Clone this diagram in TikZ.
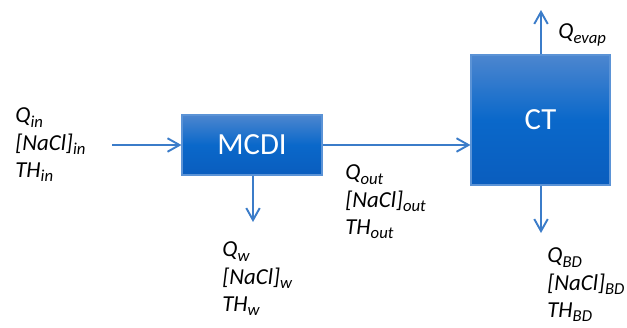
\documentclass[tikz,border=0pt]{standalone}
\usepackage{fontspec}
\setmainfont{Carlito}
\usepackage{tikz}
\usetikzlibrary{arrows.meta, positioning, calc}
\definecolor{unitblue}{HTML}{0A68CA}
\definecolor{unitbluetop}{HTML}{4C86CF}
\definecolor{unitbluebot}{HTML}{0A5DBE}
\definecolor{unitblueedge}{HTML}{5B93D6}
\definecolor{flowblue}{HTML}{3B7CC9}
\newcommand{\sub}[1]{\raisebox{-0.4ex}{\fontsize{9.5}{9.5}\selectfont #1}}

\begin{document}
\begin{tikzpicture}[
    unitbox/.style={draw=unitblueedge, line width=0.6pt, top color=unitbluetop, bottom color=unitbluebot, middle color=unitblue, text=white, font=\fontsize{17.5}{20}\selectfont, inner sep=0pt},
    flow/.style={draw=flowblue, line width=1.1pt, -{Straight Barb[length=2.4mm, width=2.7mm, line width=1.1pt]}},
    streamtext/.style={font=\fontsize{13}{15.5}\selectfont\itshape, align=left, inner sep=0pt}
  ]
    \useasboundingbox (0,0) rectangle (12.54,6.54);

    % units
    \node[unitbox, minimum width=2.8cm, minimum height=1.2cm] (mcdi) at (5.04,3.64) {MCDI};
    \node[unitbox, minimum width=2.78cm, minimum height=2.6cm] (ct) at (10.81,4.14) {CT};

    % free ends of the streams
    \coordinate (feed) at (2.24,3.64);
    \coordinate (waste) at (5.06,2.10);
    \coordinate (evap) at (10.82,6.34);
    \coordinate (blowdown) at (10.82,1.88);

    \draw[flow] (feed) -- (mcdi.west);
    \draw[flow] (mcdi.east) -- (mcdi.east -| ct.west);
    \draw[flow] (mcdi.south -| waste) -- (waste);
    \draw[flow] (ct.north -| evap) -- (evap);
    \draw[flow] (ct.south -| blowdown) -- (blowdown);

    % stream labels
    \node[streamtext, anchor=west] (inlbl) at (0.3,3.64) {Q\sub{in}\\{}[NaCl]\sub{in}\\TH\sub{in}};
    \node[streamtext, anchor=west] (outlbl) at (6.9,2.5) {Q\sub{out}\\{}[NaCl]\sub{out}\\TH\sub{out}};
    \node[streamtext, anchor=west] (wlbl) at (4.44,0.96) {Q\sub{w}\\{}[NaCl]\sub{w}\\TH\sub{w}};
    \node[streamtext, anchor=west] (bdlbl) at (10.94,0.84) {Q\sub{BD}\\{}[NaCl]\sub{BD}\\TH\sub{BD}};
    \node[streamtext, anchor=west] (evaplbl) at (11.16,5.84) {Q\sub{evap}};
  \end{tikzpicture}
\end{document}
